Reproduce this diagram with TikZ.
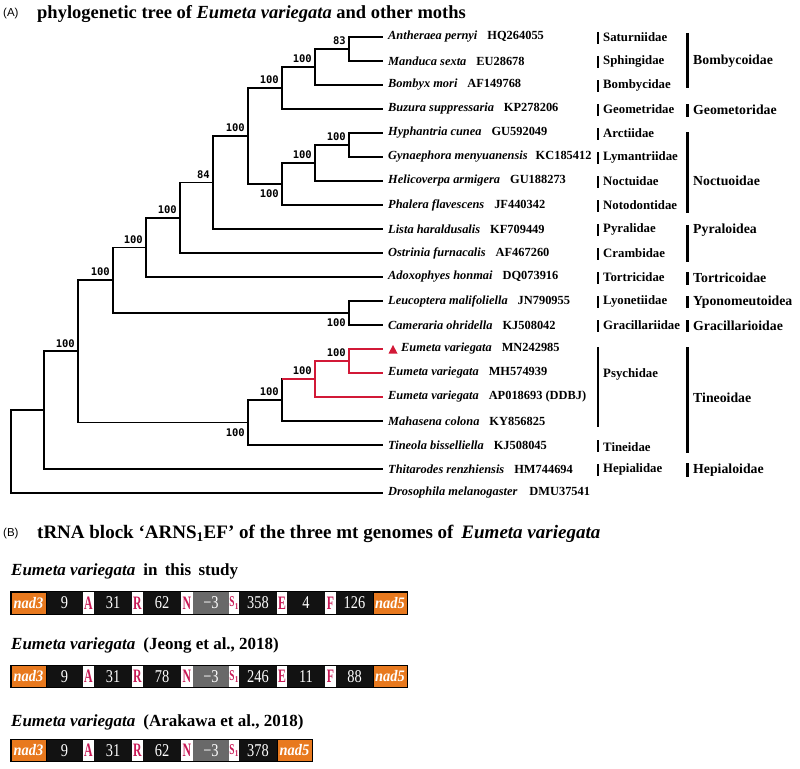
\documentclass[tikz,border=0pt]{standalone}
\usepackage{fontspec}
\usepackage{graphicx}
\setmainfont{Liberation Serif}
\newfontfamily\bsfont{DejaVu Sans Mono}
\newfontfamily\lblsans{Liberation Sans}
\definecolor{treered}{RGB}{210,25,55}
\definecolor{boxorange}{RGB}{232,121,30}
\definecolor{boxblack}{RGB}{18,18,18}
\definecolor{boxgray}{RGB}{105,105,105}
\definecolor{trnared}{RGB}{200,25,85}
\newcommand\trnaS{{\fontsize{15}{15}\selectfont\scalebox{0.62}[1]{S}\hspace{0.3pt}\raisebox{-0.3ex}{\fontsize{9}{9}\selectfont\scalebox{0.8}[1]{1}}}}
\newcommand\cntsegbk[1]{\scalebox{0.8}[1]{#1}}
\newcommand\cntseggr[1]{\scalebox{0.8}[1]{#1}}
\newcommand\cntsegor[1]{\scalebox{0.9}[1]{#1}}
\newcommand\cntsegwh[1]{\scalebox{0.62}[1]{#1}}
\newcommand\cntsegws[1]{#1}
\begin{document}
\begin{tikzpicture}[x=1pt,y=-1pt,
  br/.style={line width=1.8pt,line join=miter},
  rbr/.style={br,draw=treered},
  bsa/.style={anchor=south east,inner sep=1pt,xshift=-2pt,yshift=3pt,font=\bsfont\bfseries\fontsize{10.5}{10.5}\selectfont},
  bsb/.style={anchor=north east,inner sep=1pt,xshift=-2pt,yshift=-5pt,font=\bsfont\bfseries\fontsize{10.5}{10.5}\selectfont},
  leaf/.style={anchor=west,inner sep=0pt,font=\bfseries\fontsize{12.4}{12.4}\selectfont},
  fam/.style={anchor=west,inner sep=0pt,font=\bfseries\fontsize{12.8}{12.8}\selectfont},
  sfam/.style={anchor=west,inner sep=0pt,font=\bfseries\fontsize{13.8}{13.8}\selectfont},
  fbar/.style={line width=1.8pt},
  sbar/.style={line width=3pt},
  seg/.style={inner sep=0pt,minimum height=22pt,draw=none},
  segor/.style={seg,fill=boxorange,text=white,font=\bfseries\itshape\fontsize{16}{16}\selectfont},
  segbk/.style={seg,fill=boxblack,text=white,font=\fontsize{18}{18}\selectfont},
  segwh/.style={seg,fill=white,text=trnared,font=\bfseries\fontsize{19}{19}\selectfont},
  segws/.style={seg,fill=white,text=trnared,font=\bfseries},
  seggr/.style={seg,fill=boxgray,text=white,font=\fontsize{18}{18}\selectfont},
  ttl/.style={anchor=west,inner sep=0pt,font=\bfseries\fontsize{18.5}{18.5}\selectfont},
  sub/.style={anchor=west,inner sep=0pt,font=\bfseries\fontsize{17}{17}\selectfont},
  plab/.style={anchor=west,inner sep=0pt,font=\lblsans\fontsize{11.5}{11.5}\selectfont}
]
\useasboundingbox (0,0) rectangle (800,768);
% titles
\node[plab] (labA) at (3,14) {(A)};
\node[ttl] (titA) at (37,14) {phylogenetic tree of \textit{Eumeta variegata} and other moths};
% leaf ends
\foreach \r [count=\i] in {37,61,85,109,133,157,181,205,229,253,277,301,325,349,373,397,421,445,469,493}
  \coordinate (l\i) at (383,\r);
% internal nodes
\coordinate (nA) at (349,49);
\coordinate (nB) at (315,67);
\coordinate (nC) at (282,88);
\coordinate (nD) at (349,145);
\coordinate (nE) at (315,163);
\coordinate (nF) at (282,184);
\coordinate (nG) at (248,136);
\coordinate (nH) at (213,182.5);
\coordinate (nI) at (180,217.75);
\coordinate (nJ) at (146,247.4);
\coordinate (nK) at (349,313);
\coordinate (nL) at (113,280.2);
\coordinate (nM) at (349,361);
\coordinate (nN) at (315,379);
\coordinate (nO) at (282,400);
\coordinate (nP) at (248,422.5);
\coordinate (nQ) at (78,351.35);
\coordinate (nR) at (44,410.2);
\coordinate (nS) at (11,451.6);
% branches
\draw[br] (nA) |- (l1); \draw[br] (nA) |- (l2);
\draw[br] (nB) |- (nA); \draw[br] (nB) |- (l3);
\draw[br] (nC) |- (nB); \draw[br] (nC) |- (l4);
\draw[br] (nD) |- (l5); \draw[br] (nD) |- (l6);
\draw[br] (nE) |- (nD); \draw[br] (nE) |- (l7);
\draw[br] (nF) |- (nE); \draw[br] (nF) |- (l8);
\draw[br] (nG) |- (nC); \draw[br] (nG) |- (nF);
\draw[br] (nH) |- (nG); \draw[br] (nH) |- (l9);
\draw[br] (nI) |- (nH); \draw[br] (nI) |- (l10);
\draw[br] (nJ) |- (nI); \draw[br] (nJ) |- (l11);
\draw[br] (nK) |- (l12); \draw[br] (nK) |- (l13);
\draw[br] (nL) |- (nJ); \draw[br] (nL) |- (nK);
\draw[br] (nO) |- (nN); \draw[br] (nO) |- (l17);
\draw[rbr] (nO |- nN) -- (nN);
\draw[rbr] (nM) |- (l14); \draw[rbr] (nM) |- (l15);
\draw[rbr] (nN) |- (nM); \draw[rbr] (nN) |- (l16);
\draw[br] (nP) |- (nO); \draw[br] (nP) |- (l18);
\draw[br] (nQ) |- (nL); \draw[br] (nQ) |- (nP);
\draw[br] (nR) |- (nQ); \draw[br] (nR) |- (l19);
\draw[br] (nS) |- (nR); \draw[br] (nS) |- (l20);
% bootstrap values
\node[bsa] (bA) at (nA) {83};
\node[bsa] (bB) at (nB) {100};
\node[bsa] (bC) at (nC) {100};
\node[bsa] (bD) at (nD) {100};
\node[bsa] (bE) at (nE) {100};
\node[bsb] (bF) at (nF) {100};
\node[bsa] (bG) at (nG) {100};
\node[bsa] (bH) at (nH) {84};
\node[bsa] (bI) at (nI) {100};
\node[bsa] (bJ) at (nJ) {100};
\node[bsb] (bK) at (nK) {100};
\node[bsa] (bL) at (nL) {100};
\node[bsa] (bM) at (nM) {100};
\node[bsa] (bN) at (nN) {100};
\node[bsa] (bO) at (nO) {100};
\node[bsb] (bP) at (nP) {100};
\node[bsa] (bQ) at (nQ) {100};
% leaf labels
\node[leaf] (t1) at (388,37) {\textit{Antheraea pernyi}\hspace{10pt}HQ264055};
\node[leaf] (t2) at (388,61) {\textit{Manduca sexta}\hspace{10pt}EU28678};
\node[leaf] (t3) at (388,85) {\textit{Bombyx mori}\hspace{10pt}AF149768};
\node[leaf] (t4) at (388,109) {\textit{Buzura suppressaria}\hspace{10pt}KP278206};
\node[leaf] (t5) at (388,133) {\textit{Hyphantria cunea}\hspace{10pt}GU592049};
\node[leaf] (t6) at (388,157) {\textit{Gynaephora menyuanensis}\hspace{8pt}KC185412};
\node[leaf] (t7) at (388,181) {\textit{Helicoverpa armigera}\hspace{10pt}GU188273};
\node[leaf] (t8) at (388,205) {\textit{Phalera flavescens}\hspace{10pt}JF440342};
\node[leaf] (t9) at (388,229) {\textit{Lista haraldusalis}\hspace{10pt}KF709449};
\node[leaf] (t10) at (388,253) {\textit{Ostrinia furnacalis}\hspace{10pt}AF467260};
\node[leaf] (t11) at (388,277) {\textit{Adoxophyes honmai}\hspace{10pt}DQ073916};
\node[leaf] (t12) at (388,301) {\textit{Leucoptera malifoliella}\hspace{10pt}JN790955};
\node[leaf] (t13) at (388,325) {\textit{Cameraria ohridella}\hspace{10pt}KJ508042};
\fill[treered] (388.5,353.5) -- (397.5,353.5) -- (393,345) -- cycle;
\node[leaf] (t14) at (401,349) {\textit{Eumeta variegata}\hspace{10pt}MN242985};
\node[leaf] (t15) at (388,373) {\textit{Eumeta variegata}\hspace{10pt}MH574939};
\node[leaf] (t16) at (388,397) {\textit{Eumeta variegata}\hspace{10pt}AP018693 (DDBJ)};
\node[leaf] (t17) at (388,421) {\textit{Mahasena colona}\hspace{10pt}KY856825};
\node[leaf] (t18) at (388,445) {\textit{Tineola bisselliella}\hspace{10pt}KJ508045};
\node[leaf] (t19) at (388,469) {\textit{Thitarodes renzhiensis}\hspace{10pt}HM744694};
\node[leaf] (t20) at (388,493) {\textit{Drosophila melanogaster}\hspace{12pt}DMU37541};
% family bars and labels
\foreach \r in {37,61,85,109,133,157,181,205,229,253,277,301,325,469}
  \draw[fbar] (598,\r-5) -- (598,\r+7);
\draw[fbar] (598,347) -- (598,427);
\draw[fbar] (598,440) -- (598,452);
\node[fam] (f1) at (603,37) {Saturniidae};
\node[fam] (f2) at (603,61) {Sphingidae};
\node[fam] (f3) at (603,85) {Bombycidae};
\node[fam] (f4) at (603,109) {Geometridae};
\node[fam] (f5) at (603,133) {Arctiidae};
\node[fam] (f6) at (603,157) {Lymantriidae};
\node[fam] (f7) at (603,181) {Noctuidae};
\node[fam] (f8) at (603,205) {Notodontidae};
\node[fam] (f9) at (603,229) {Pyralidae};
\node[fam] (f10) at (603,253) {Crambidae};
\node[fam] (f11) at (603,277) {Tortricidae};
\node[fam] (f12) at (603,301) {Lyonetiidae};
\node[fam] (f13) at (603,325) {Gracillariidae};
\node[fam] (f14) at (603,374) {Psychidae};
\node[fam] (f15) at (603,447) {Tineidae};
\node[fam] (f16) at (603,469) {Hepialidae};
% superfamily bars and labels
\draw[sbar] (687,33) -- (687,88);
\draw[sbar] (687,104) -- (687,117);
\draw[sbar] (687,132) -- (687,213);
\draw[sbar] (687,225) -- (687,262);
\draw[sbar] (687,272) -- (687,285);
\draw[sbar] (687,296) -- (687,308);
\draw[sbar] (687,320) -- (687,332);
\draw[sbar] (687,347) -- (687,453);
\draw[sbar] (687,463) -- (687,477);
\node[sfam] (s1) at (693,61) {Bombycoidae};
\node[sfam] (s2) at (693,110) {Geometoridae};
\node[sfam] (s3) at (693,181) {Noctuoidae};
\node[sfam] (s4) at (693,230) {Pyraloidea};
\node[sfam] (s5) at (693,278) {Tortricoidae};
\node[sfam] (s6) at (693,302) {Yponomeutoidea};
\node[sfam] (s7) at (693,326) {Gracillarioidae};
\node[sfam] (s8) at (693,398) {Tineoidae};
\node[sfam] (s9) at (693,470) {Hepialoidae};
% part B
\node[plab] (labB) at (3,534) {(B)};
\node[ttl,font=\bfseries\fontsize{19}{19}\selectfont] (titB) at (37,534) {tRNA block ‘ARNS\textsubscript{1}EF’ of the three mt genomes of\hspace{8pt}\textit{Eumeta variegata}};
\node[sub] (sub1) at (11,571) {\textit{Eumeta variegata}\hspace{8pt}in\hspace{3pt} this\hspace{3pt} study};
\node[sub] (sub2) at (11,645) {\textit{Eumeta variegata}\hspace{8pt}(Jeong et al., 2018)};
\node[sub] (sub3) at (11,722) {\textit{Eumeta variegata}\hspace{8pt}(Arakawa et al., 2018)};
% blocks
\foreach \a/\b/\st/\t [count=\i] in {11/46/segor/nad3,46/83/segbk/9,83/94/segwh/A,94/132/segbk/31,132/143/segwh/R,143/181/segbk/62,181/193/segwh/N,193/229/seggr/−3,229/239/segws/\trnaS,239/277/segbk/358,277/287/segwh/E,287/325/segbk/4,325/336/segwh/F,336/373/segbk/126,373/407/segor/nad5}{
  \pgfmathsetmacro\w{\b-\a}
  \node[\st,minimum width=\w pt] (ba\i) at ({(\a+\b)/2},603) {\csname cnt\st\endcsname{\t}};
}
\draw[line width=0.7pt] (ba1.north west) rectangle (ba15.south east);
\draw[line width=0.5pt] (ba1.north west) rectangle (ba1.south east);
\draw[line width=0.5pt] (ba15.north west) rectangle (ba15.south east);
\foreach \a/\b/\st/\t [count=\i] in {11/46/segor/nad3,46/83/segbk/9,83/94/segwh/A,94/132/segbk/31,132/143/segwh/R,143/181/segbk/78,181/193/segwh/N,193/229/seggr/−3,229/239/segws/\trnaS,239/277/segbk/246,277/287/segwh/E,287/325/segbk/11,325/336/segwh/F,336/373/segbk/88,373/407/segor/nad5}{
  \pgfmathsetmacro\w{\b-\a}
  \node[\st,minimum width=\w pt] (bb\i) at ({(\a+\b)/2},676.5) {\csname cnt\st\endcsname{\t}};
}
\draw[line width=0.7pt] (bb1.north west) rectangle (bb15.south east);
\draw[line width=0.5pt] (bb1.north west) rectangle (bb1.south east);
\draw[line width=0.5pt] (bb15.north west) rectangle (bb15.south east);
\foreach \a/\b/\st/\t [count=\i] in {11/46/segor/nad3,46/83/segbk/9,83/94/segwh/A,94/132/segbk/31,132/143/segwh/R,143/181/segbk/62,181/193/segwh/N,193/229/seggr/−3,229/239/segws/\trnaS,239/277/segbk/378,277/312/segor/nad5}{
  \pgfmathsetmacro\w{\b-\a}
  \node[\st,minimum width=\w pt] (bc\i) at ({(\a+\b)/2},750.5) {\csname cnt\st\endcsname{\t}};
}
\draw[line width=0.7pt] (bc1.north west) rectangle (bc11.south east);
\draw[line width=0.5pt] (bc1.north west) rectangle (bc1.south east);
\draw[line width=0.5pt] (bc11.north west) rectangle (bc11.south east);
\end{tikzpicture}
\end{document}
